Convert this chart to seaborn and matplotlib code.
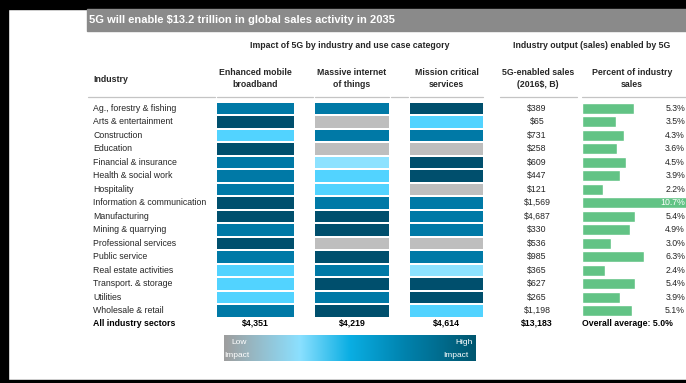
import numpy as np
import pandas as pd
import matplotlib
matplotlib.use("Agg")
import matplotlib.pyplot as plt
import seaborn as sns
from matplotlib.colors import ListedColormap, LinearSegmentedColormap
from matplotlib.patches import Rectangle
from matplotlib.lines import Line2D
from matplotlib.transforms import blended_transform_factory

# ---- data ---------------------------------------------------------------
industries = [
    "Ag., forestry & fishing", "Arts & entertainment", "Construction",
    "Education", "Financial & insurance", "Health & social work",
    "Hospitality", "Information & communication", "Manufacturing",
    "Mining & quarrying", "Professional services", "Public service",
    "Real estate activities", "Transport. & storage", "Utilities",
    "Wholesale & retail",
]
# impact level: 0 = none, 1 = very low ... 4 = high
impact_embb = [3, 4, 2, 4, 3, 3, 3, 4, 4, 3, 4, 3, 2, 2, 2, 3]
impact_miot = [3, 0, 3, 0, 1, 2, 2, 3, 4, 4, 0, 4, 3, 4, 3, 4]
impact_mcs = [4, 2, 3, 0, 4, 4, 0, 3, 3, 3, 0, 3, 1, 4, 4, 2]
sales_b = [389, 65, 731, 258, 609, 447, 121, 1569, 4687, 330, 536, 985,
           365, 627, 265, 1198]
pct_sales = [5.3, 3.5, 4.3, 3.6, 4.5, 3.9, 2.2, 10.7, 5.4, 4.9, 3.0, 6.3,
             2.4, 5.4, 3.9, 5.1]
impact_totals = [4351, 4219, 4614]
total_sales = 13183
overall_avg = 5.0
use_cases = ["Enhanced mobile\nbroadband", "Massive internet\nof things",
             "Mission critical\nservices"]

# ---- style --------------------------------------------------------------
sns.set_theme(style="white")
plt.rcParams["font.family"] = ["Liberation Sans", "DejaVu Sans"]

W, H = 686, 383
fig = plt.figure(figsize=(W / 100, H / 100), dpi=100)
fig.patch.set_facecolor("white")


def fx(x):
    return x / W


def fy(y):
    return 1 - y / H


def add_axes_px(x0, y0, x1, y1):
    return fig.add_axes([fx(x0), fy(y1), (x1 - x0) / W, (y1 - y0) / H])


TXT = "#262626"
FS = 6.3
level_colors = ["#BEBEBE", "#8DE2FF", "#52D3FF", "#0079A6", "#004F6D"]
level_cmap = ListedColormap(level_colors)
green = "#62C385"

# frame and title band
fig.patches.append(Rectangle((0, 0), fx(8), 1, transform=fig.transFigure,
                             color="black", zorder=0))
fig.patches.append(Rectangle((0, fy(9)), 1, 9 / H, transform=fig.transFigure,
                             color="black", zorder=0))
fig.patches.append(Rectangle((0, 0), 1, 3 / H, transform=fig.transFigure,
                             color="black", zorder=0))
fig.patches.append(Rectangle((fx(87), fy(31)), 1 - fx(87), 22 / H,
                             transform=fig.transFigure, color="#8A8A8A",
                             zorder=0))
fig.text(fx(89), fy(20), "5G will enable $13.2 trillion in global sales activity in 2035",
         color="white", fontsize=8.0, fontweight="bold", va="center", ha="left")

# section headers
fig.text(fx(350), fy(46), "Impact of 5G by industry and use case category",
         fontsize=FS, fontweight="bold", color=TXT, ha="center", va="center")
fig.text(fx(592), fy(46), "Industry output (sales) enabled by 5G",
         fontsize=FS, fontweight="bold", color=TXT, ha="center", va="center")
fig.text(fx(93), fy(79), "Industry", fontsize=FS, fontweight="bold",
         color=TXT, ha="left", va="center")

col_spans = [(217, 294), (315, 389), (410, 483)]
for (x0, x1), name in zip(col_spans, use_cases):
    fig.text(fx((x0 + x1) / 2), fy(78.5), name, fontsize=FS, fontweight="bold",
             color=TXT, ha="center", va="center", linespacing=1.4)
fig.text(fx(538), fy(78.5), "5G-enabled sales\n(2016$, B)", fontsize=FS,
         fontweight="bold", color=TXT, ha="center", va="center", linespacing=1.4)
fig.text(fx(632), fy(78.5), "Percent of industry\nsales", fontsize=FS,
         fontweight="bold", color=TXT, ha="center", va="center", linespacing=1.4)

# rules under the headers
for x0, x1 in [(88, 215), (217, 313), (315, 389), (391, 408), (410, 483),
               (500, 577), (582, 686)]:
    fig.lines.append(Line2D([fx(x0), fx(x1)], [fy(97), fy(97)],
                            transform=fig.transFigure, color="#C4C4C4", lw=0.9))

# ---- impact heatmaps (one per use case) ---------------------------------
ROW_TOP, ROW_BOT = 101.5, 317.5
impact_df = pd.DataFrame({"embb": impact_embb, "miot": impact_miot,
                          "mcs": impact_mcs}, index=industries)
heat_axes = []
for (x0, x1), col in zip(col_spans, ["embb", "miot", "mcs"]):
    ax = add_axes_px(x0 - 0.6, ROW_TOP, x1 + 0.6, ROW_BOT)
    sns.heatmap(impact_df[[col]], ax=ax, cmap=level_cmap, vmin=-0.5, vmax=4.5,
                cbar=False, linewidths=1.1, linecolor="white",
                xticklabels=False, yticklabels=False)
    ax.set_xlabel("")
    ax.set_ylabel("")
    heat_axes.append(ax)

hax = heat_axes[0]
row_tf = blended_transform_factory(fig.transFigure, hax.transData)
n = len(industries)
for i, name in enumerate(industries):
    y = i + 0.5
    fig.text(fx(93), y, name, transform=row_tf, fontsize=FS, color=TXT,
             ha="left", va="center")
    fig.text(fx(537), y, f"${sales_b[i]:,}", transform=row_tf, fontsize=FS,
             color=TXT, ha="center", va="center")

# totals row
ty = n + 0.43
fig.text(fx(93), ty, "All industry sectors", transform=row_tf, fontsize=FS,
         fontweight="bold", color="black", ha="left", va="center")
for (x0, x1), tot in zip(col_spans, impact_totals):
    fig.text(fx((x0 + x1) / 2), ty, f"${tot:,}", transform=row_tf, fontsize=FS,
             fontweight="bold", color="black", ha="center", va="center")
fig.text(fx(537), ty, f"${total_sales:,}", transform=row_tf, fontsize=FS,
         fontweight="bold", color="black", ha="center", va="center")
fig.text(fx(582), ty, f"Overall average: {overall_avg:.1f}%", transform=row_tf,
         fontsize=FS, fontweight="bold", color="black", ha="left", va="center")

# ---- percent of industry sales bars -------------------------------------
bax = add_axes_px(582, ROW_TOP, 686.5, ROW_BOT)
pct_df = pd.DataFrame({"industry": industries, "pct": pct_sales})
sns.barplot(data=pct_df, y="industry", x="pct", ax=bax, color=green,
            saturation=1, width=0.8, orient="h")
bax.set_xlim(0, max(pct_sales))
bax.set_ylim(n - 0.5, -0.5)
bax.axis("off")
pct_tf = blended_transform_factory(fig.transFigure, bax.transData)
for i, p in enumerate(pct_sales):
    inside = p >= max(pct_sales) - 0.5
    fig.text(fx(685), i, f"{p:.1f}%", transform=pct_tf, fontsize=FS,
             color="white" if inside else TXT, ha="right", va="center")

# ---- impact scale legend -------------------------------------------------
lax = add_axes_px(224, 335, 475, 361)
scale_cmap = LinearSegmentedColormap.from_list(
    "impact_scale",
    [(0.0, "#9E9E9E"), (0.3, "#8BE0FF"), (0.5, "#0AAEE3"),
     (0.72, "#0082AD"), (1.0, "#00566F")])
lax.imshow(np.linspace(0, 1, 256)[None, :], aspect="auto", cmap=scale_cmap,
           extent=(0, 1, 0, 1))
lax.set_xticks([])
lax.set_yticks([])
for s in lax.spines.values():
    s.set_visible(False)
lax.text(0.06, 0.72, "Low", color="white", fontsize=6, ha="center", va="center",
         transform=lax.transAxes)
lax.text(0.0, 0.23, "Impact", color="white", fontsize=6, ha="left", va="center",
         transform=lax.transAxes)
lax.text(0.955, 0.72, "High", color="white", fontsize=6, ha="center", va="center",
         transform=lax.transAxes)
lax.text(0.975, 0.23, "Impact", color="white", fontsize=6, ha="right", va="center",
         transform=lax.transAxes)

fig.savefig("out.png", dpi=100, facecolor="white")
